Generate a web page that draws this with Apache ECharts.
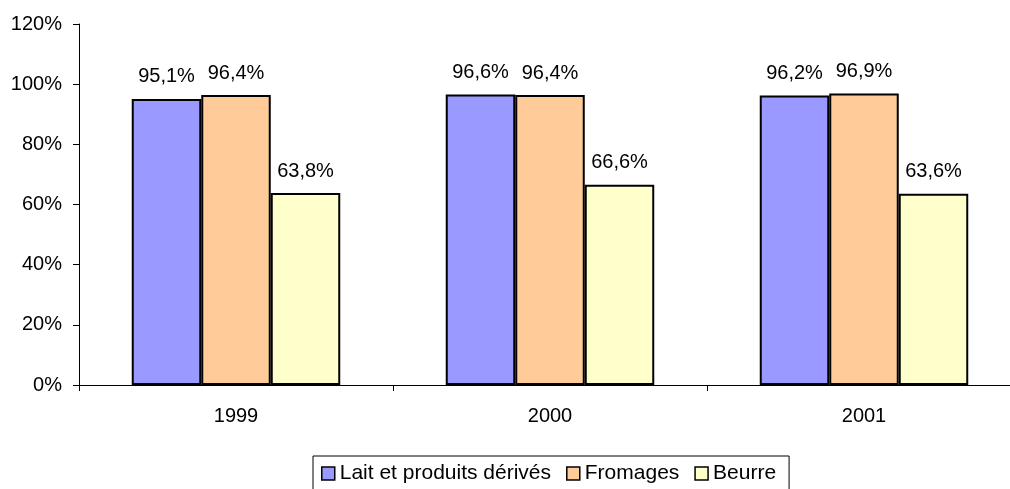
<!DOCTYPE html>
<html>
<head>
<meta charset="utf-8">
<script src="https://cdn.jsdelivr.net/npm/echarts@6/dist/echarts.min.js"></script>
<style>
  html, body { margin: 0; padding: 0; background: #fff; overflow: hidden; }
  #chart { width: 1022px; height: 489px; }
</style>
</head>
<body>
<div id="chart"></div>
<script>
var years = ['1999', '2000', '2001'];
var lait = [95.1, 96.6, 96.2];
var fromages = [96.4, 96.4, 96.9];
var beurre = [63.8, 66.6, 63.6];
var seriesNames = ['Lait et produits dérivés', 'Fromages', 'Beurre'];
var seriesColors = ['#9999ff', '#ffcc99', '#ffffcc'];

var font = 'Liberation Sans, Arial, sans-serif';

function pct(v) {
	return String(v).replace('.', ',') + '%';
}

function makeSeries(name, data, color) {
	return {
		name: name,
		type: 'bar',
		data: data,
		barGap: '0%',
		barCategoryGap: '33.6%',
		itemStyle: { color: color, borderColor: '#000', borderWidth: 2 },
		label: {
			show: true,
			position: 'top',
			distance: 12,
			color: '#000',
			fontFamily: font,
			fontSize: 20,
			formatter: function (p) { return pct(p.value); }
		},
		emphasis: { disabled: true }
	};
}

// the plot runs a little past the right edge of the window, like the original
var chart = echarts.init(document.getElementById('chart'));
chart.setOption({
	animation: false,
	backgroundColor: '#fff',
	grid: { left: 79, right: 1, top: 24, bottom: 104, containLabel: false },
	legend: {
		data: seriesNames,
		left: 313,
		top: 456,
		orient: 'horizontal',
		padding: [7, 13, 20, 8],
		itemGap: 15,
		itemWidth: 13,
		itemHeight: 13,
		borderColor: '#000',
		borderWidth: 1,
		icon: 'rect',
		itemStyle: { borderColor: '#000', borderWidth: 1.5 },
		textStyle: { color: '#000', fontFamily: font, fontSize: 21 }
	},
	xAxis: {
		type: 'category',
		data: years,
		axisLine: { lineStyle: { color: '#000', width: 1 } },
		axisTick: { show: true, length: 6, inside: false, lineStyle: { color: '#000' } },
		axisLabel: { color: '#000', fontFamily: font, fontSize: 20, margin: 21 },
		splitLine: { show: false }
	},
	yAxis: {
		type: 'value',
		min: 0,
		max: 120,
		interval: 20,
		axisLine: { show: true, lineStyle: { color: '#000', width: 1 } },
		axisTick: { show: true, length: 6, lineStyle: { color: '#000' } },
		axisLabel: {
			color: '#000', fontFamily: font, fontSize: 20, margin: 17,
			formatter: function (v) { return v + '%'; }
		},
		splitLine: { show: false }
	},
	series: [
		makeSeries(seriesNames[0], lait, seriesColors[0]),
		makeSeries(seriesNames[1], fromages, seriesColors[1]),
		makeSeries(seriesNames[2], beurre, seriesColors[2])
	]
});
</script>
</body>
</html>
